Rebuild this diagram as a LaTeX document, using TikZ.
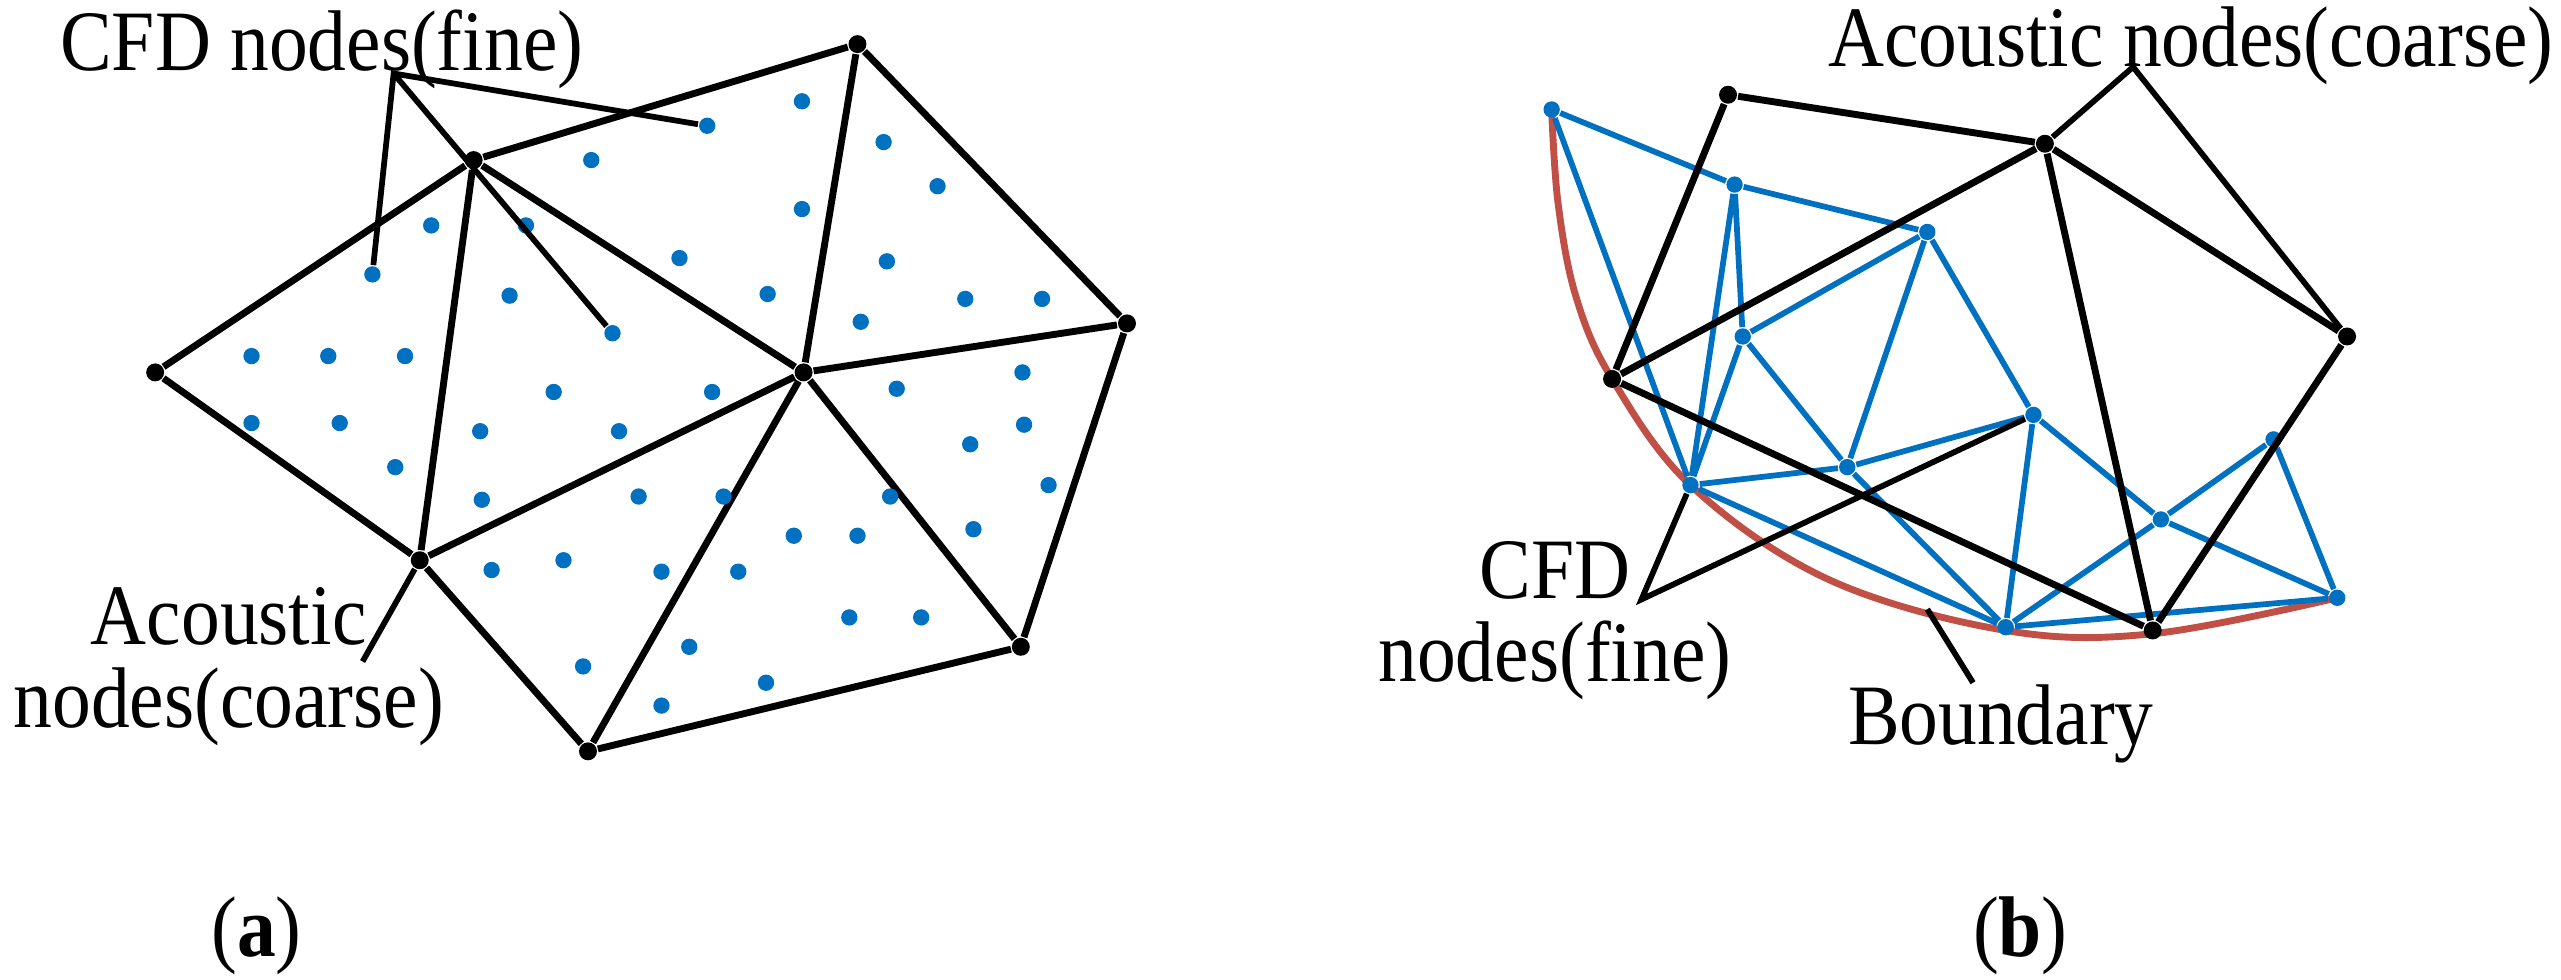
\documentclass[tikz,border=0pt]{standalone}
\usepackage{fontspec}
\setmainfont{Liberation Serif}[FakeStretch=0.9]
\usetikzlibrary{positioning}
\definecolor{cfdblue}{RGB}{0,112,192}
\definecolor{bndred}{RGB}{192,80,70}
\tikzset{
  coarse/.style={circle, fill=black, inner sep=0pt, minimum size=1.1mm},
  fine/.style={circle, fill=cfdblue, inner sep=0pt, minimum size=1mm},
  mesh/.style={line width=1.2pt, black},
  fmesh/.style={line width=1pt, cfdblue},
  lead/.style={line width=1pt, black},
  lbl/.style={font=\fontsize{15}{14.5}\selectfont, align=center, inner sep=0pt}
}
\begin{document}
\begin{tikzpicture}[x=1cm, y=-1cm]
	\useasboundingbox (0,0) rectangle (15.68,6);

	% (a) coarse acoustic mesh
	\node[coarse] (a1) at (0.95,2.28) {};
	\node[coarse] (a2) at (2.90,0.98) {};
	\node[coarse] (a3) at (5.25,0.27) {};
	\node[coarse] (a4) at (6.90,1.98) {};
	\node[coarse] (a5) at (4.92,2.28) {};
	\node[coarse] (a6) at (2.57,3.43) {};
	\node[coarse] (a7) at (3.60,4.60) {};
	\node[coarse] (a8) at (6.25,3.96) {};
	\draw[mesh] (a1) -- (a2) -- (a3) -- (a4) -- (a5) -- (a2) -- (a6) -- (a1)
		(a3) -- (a5) -- (a6) -- (a7) -- (a5) -- (a8) -- (a4)
		(a7) -- (a8);

	% fine CFD points
	\foreach \x/\y in {4.91/0.62,3.62/0.98,5.41/0.87,2.64/1.38,3.22/1.38,4.91/1.28,5.74/1.14,
		4.16/1.58,5.43/1.60,3.12/1.81,4.70/1.80,5.27/1.97,5.91/1.83,6.38/1.83,
		1.54/2.18,2.01/2.18,2.48/2.18,3.39/2.40,4.36/2.40,5.49/2.38,6.26/2.28,
		1.54/2.59,2.08/2.59,2.94/2.64,3.79/2.64,5.94/2.72,6.27/2.60,2.42/2.86,
		2.95/3.06,3.91/3.04,4.43/3.04,5.45/3.04,6.42/2.97,3.01/3.49,3.45/3.43,
		4.05/3.50,4.52/3.50,4.86/3.28,5.25/3.28,5.96/3.24,5.20/3.78,5.64/3.78,
		4.22/3.96,3.57/4.08,4.05/4.32,4.69/4.18}
		\node[fine] at (\x,\y) {};
	\node[fine] (d1) at (4.33,0.77) {};
	\node[fine] (d2) at (2.28,1.68) {};
	\node[fine] (d3) at (3.75,2.04) {};

	% (a) labels
	\node[lbl] (cfda) at (1.97,0.30) {CFD nodes(fine)};
	\coordinate (fa) at (2.41,0.45);
	\draw[lead] (d1) -- (fa) -- (d2) (fa) -- (d3);
	\node[lbl] (aca) at (1.40,4.08) {Acoustic\\nodes(coarse)};
	\coordinate (ea) at (2.22,4.05);
	\draw[lead] (a6) -- (ea);
	\node[lbl] (capa) at (1.57,5.73) {(\textbf{a})};

	% (b) boundary
	\draw[bndred, line width=1.2pt] plot[smooth, tension=0.6] coordinates {(9.50,0.67) (9.54,1.25)
		(9.65,1.82) (9.87,2.32) (10.36,2.98) (11.20,3.55) (12.28,3.86) (13.18,3.88) (14.31,3.66)};

	% (b) fine CFD mesh
	\node[fine] (c1) at (9.50,0.67) {};
	\node[fine] (c2) at (10.62,1.13) {};
	\node[fine] (c3) at (11.80,1.42) {};
	\node[fine] (c4) at (10.67,2.06) {};
	\node[fine] (c5) at (12.45,2.54) {};
	\node[fine] (c6) at (11.31,2.86) {};
	\node[fine] (c7) at (10.35,2.97) {};
	\node[fine] (c8) at (12.28,3.84) {};
	\node[fine] (c9) at (13.23,3.18) {};
	\node[fine] (c10) at (13.92,2.69) {};
	\node[fine] (c11) at (14.31,3.66) {};
	\draw[fmesh] (c1) -- (c2) -- (c3) -- (c5) -- (c9) -- (c11) -- (c10) -- (c9) -- (c8) -- (c11)
		(c1) -- (c7) -- (c2) -- (c4) -- (c7) -- (c6) -- (c5) -- (c8) -- (c6) -- (c4) -- (c3) -- (c6)
		(c7) -- (c8);

	% (b) coarse acoustic mesh
	\node[coarse] (b1) at (10.58,0.58) {};
	\node[coarse] (b2) at (12.52,0.88) {};
	\node[coarse] (b3) at (14.37,2.06) {};
	\node[coarse] (b4) at (9.87,2.32) {};
	\node[coarse] (b5) at (13.18,3.86) {};
	\draw[mesh] (b1) -- (b2) -- (b3) -- (b5) -- (b2) -- (b4) -- (b1)
		(b4) -- (b5);

	% (b) labels
	\node[lbl, anchor=east] (acb) at (15.64,0.28) {Acoustic nodes(coarse)};
	\coordinate (eb) at (13.06,0.41);
	\draw[lead] (b2) -- (eb) -- (b3);
	\node[lbl] (cfdb) at (9.52,3.80) {CFD\\nodes(fine)};
	\coordinate (fb) at (10.05,3.67);
	\draw[lead] (c7) -- (fb) -- (c5);
	\node[lbl] (bnd) at (12.25,4.43) {Boundary};
	\coordinate (bs) at (11.80,3.73);
	\coordinate (be) at (12.08,4.18);
	\draw[lead] (bs) -- (be);
	\node[lbl] (capb) at (12.37,5.73) {(\textbf{b})};
\end{tikzpicture}
\end{document}
